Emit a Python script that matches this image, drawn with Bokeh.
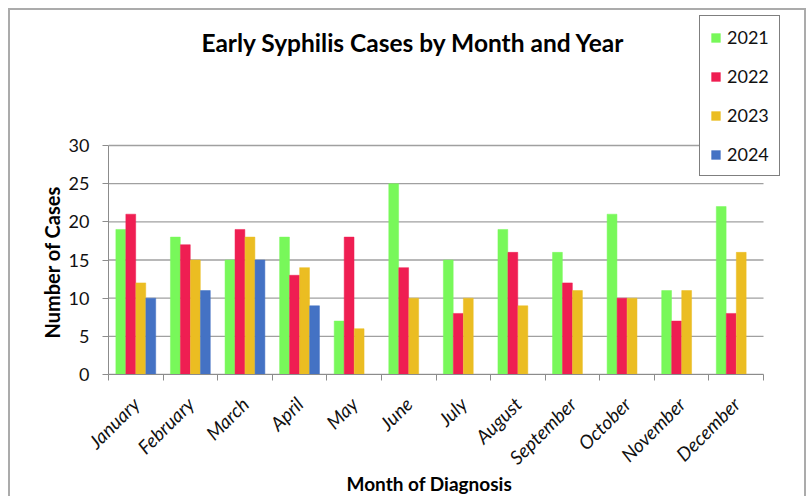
import math
from bokeh.plotting import figure
from bokeh.models import Range1d, FixedTicker, Label, ColumnDataSource, Title
from bokeh.transform import dodge
from bokeh.embed import file_html
from bokeh.resources import INLINE

months = ["January", "February", "March", "April", "May", "June", "July",
          "August", "September", "October", "November", "December"]
cases_2021 = [19, 18, 15, 18, 7, 25, 15, 19, 16, 21, 11, 22]
cases_2022 = [21, 17, 19, 13, 18, 14, 8, 16, 12, 10, 7, 8]
cases_2023 = [12, 15, 18, 14, 6, 10, 10, 9, 11, 10, 11, 16]
cases_2024 = [10, 11, 15, 9]
years = ["2021", "2022", "2023", "2024"]
y_ticks = [0, 5, 10, 15, 20, 25, 30]

colors = ["#78f85a", "#ef1e52", "#ebbd22", "#4472c4"]
offsets = [-0.275, -0.092, 0.092, 0.275]
FONT = "Lato"
AXIS_GRAY = "#8c8c8c"

# layout: the frame covers the whole upper area so the legend and title are not clipped
FRAME_W, FRAME_H = 690, 360
PLOT_W, PLOT_H = 655, 229          # pixel span of the 12 months and of 0..30
y_max = y_ticks[-1]
n = len(months)

p = figure(frame_width=FRAME_W, frame_height=FRAME_H,
           output_backend="svg", toolbar_location=None,
           x_range=Range1d(0, n * FRAME_W / PLOT_W),
           y_range=Range1d(0, y_max * FRAME_H / PLOT_H),
           min_border_left=98, min_border_right=6, min_border_top=4,
           min_border_bottom=122)
p.styles = {"border": "2px solid #ababab", "margin-left": "8px", "margin-top": "8px"}
p.outline_line_color = None
p.xgrid.visible = False
p.ygrid.visible = False

# horizontal gridlines restricted to the plot area
p.segment(x0=[0] * len(y_ticks), x1=[n] * len(y_ticks), y0=y_ticks, y1=y_ticks,
          line_color="#a0a0a0", line_width=1.3)

series = [cases_2021, cases_2022, cases_2023, cases_2024]
for vals, col, off, yr in zip(series, colors, offsets, years):
    src = ColumnDataSource(dict(x=[i + 0.5 for i in range(len(vals))], top=vals))
    p.vbar(x=dodge("x", off), top="top", width=0.18, source=src,
           fill_color=col, line_color=col, line_width=0.5, legend_label=yr)

# x axis
xa = p.xaxis[0]
xa.bounds = (0, n)
xa.ticker = FixedTicker(ticks=[i + 0.5 for i in range(n)],
                        minor_ticks=list(range(n + 1)))
xa.major_label_overrides = {i + 0.5: m for i, m in enumerate(months)}
xa.major_tick_line_color = None
xa.major_tick_out = 0
xa.major_tick_in = 0
xa.minor_tick_line_color = AXIS_GRAY
xa.minor_tick_out = 6
xa.minor_tick_in = 0
xa.axis_line_color = AXIS_GRAY
xa.major_label_orientation = math.pi / 4
xa.major_label_text_font = FONT
xa.major_label_text_font_style = "italic"
xa.major_label_text_font_size = "19px"
xa.major_label_text_color = "#111111"
xa.major_label_standoff = 20

# y axis
ya = p.yaxis[0]
ya.bounds = (0, y_max)
ya.ticker = FixedTicker(ticks=y_ticks, minor_ticks=[])
ya.major_tick_line_color = AXIS_GRAY
ya.major_tick_out = 6
ya.major_tick_in = 0
ya.axis_line_color = AXIS_GRAY
ya.major_label_text_font = FONT
ya.major_label_text_font_size = "18px"
ya.major_label_text_color = "#111111"
ya.major_label_standoff = 13

# axis titles, positioned over the 0..30 / 12-month plot area
x_title = Title(text="Month of Diagnosis", align="left", offset=238,
                text_font=FONT, text_font_style="bold", text_font_size="19px",
                text_color="#000000", vertical_align="top", standoff=-16)
p.add_layout(x_title, "below")
y_title = Title(text="Number of Cases", align="left", offset=36,
                text_font=FONT, text_font_style="bold", text_font_size="20px",
                text_color="#000000", vertical_align="bottom", standoff=3)
p.add_layout(y_title, "left")

# chart title
title = Label(x=305, y=332, x_units="screen", y_units="screen",
              text="Early Syphilis Cases by Month and Year",
              text_font=FONT, text_font_style="bold", text_font_size="24.5px",
              text_align="center", text_baseline="middle", text_color="#000000")
p.add_layout(title)

# legend
lg = p.legend[0]
lg.location = (591, 198)
lg.border_line_color = "#000000"
lg.border_line_width = 1.5
lg.background_fill_color = "white"
lg.background_fill_alpha = 1.0
lg.label_text_font = FONT
lg.label_text_font_size = "18px"
lg.label_text_color = "#111111"
lg.glyph_width = 11
lg.glyph_height = 11
lg.label_height = 20
lg.label_standoff = 6
lg.spacing = 17
lg.padding = 10
lg.margin = 0

open("out.html", "w").write(file_html(p, INLINE))
